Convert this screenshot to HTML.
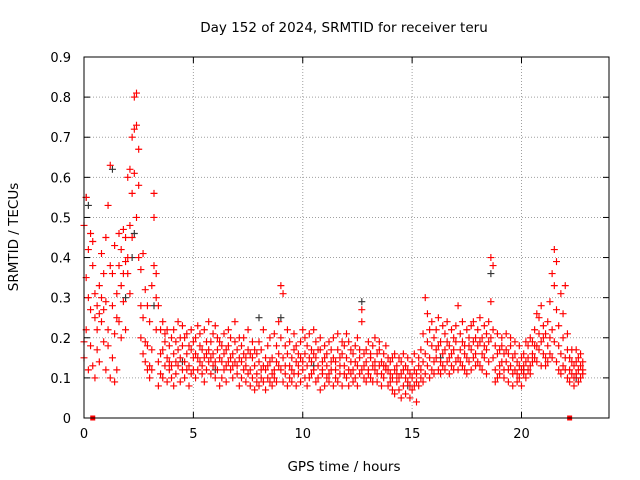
<!DOCTYPE html>
<html><head><meta charset="utf-8"><style>
body{margin:0;background:#fff}
svg{display:block;font-family:"DejaVu Sans","Liberation Sans",sans-serif}
</style></head><body>
<svg id="chart" width="640" height="480" viewBox="0 0 640 480">
<rect width="640" height="480" fill="#fff"/>
<text x="344" y="32" font-size="13.5" text-anchor="middle">Day 152 of 2024, SRMTID for receiver teru</text>
<g id="grid"></g>
<g id="ticks"></g>
<g id="black"></g>
<g id="red"></g>
<rect x="84" y="57" width="525" height="361" fill="none" stroke="#000" stroke-width="1"/>
<text x="344" y="471" font-size="13.5" text-anchor="middle">GPS time / hours</text>
<text transform="translate(18,237) rotate(-90)" font-size="13.5" text-anchor="middle">SRMTID / TECUs</text>
</svg>
<script>
const xTicks=[0,5,10,15,20];
const yTicks=[0,0.1,0.2,0.3,0.4,0.5,0.6,0.7,0.8,0.9];
const redRows=[
[0.0,.15,.48,.19],[0.1,.55,.22,.35],[0.2,.12,.42,.30],[0.3,.46,.18,.27],[0.4,.44,.13,.38],[0.5,.25,.10,.31],[0.6,.28,.17,.22],[0.7,.33,.26,.14],[0.8,.24,.30,.41],[0.9,.19,.36,.27],
[1.0,.45,.12,.29],[1.1,.53,.22,.18],[1.2,.63,.38,.10],[1.3,.28,.15,.36],[1.4,.21,.43,.09],[1.5,.31,.12,.25],[1.6,.38,.46,.24],[1.7,.33,.20,.42],[1.8,.47,.29,.36],[1.9,.45,.22,.39],
[2.0,.36,.60,.40],[2.1,.62,.48,.31],[2.2,.70,.56,.45],[2.3,.72,.80,.61],[2.4,.81,.73,.50],[2.5,.58,.67,.40],[2.6,.37,.20,.28],[2.7,.16,.25,.41],[2.8,.32,.14,.19],[2.9,.18,.28,.12],
[3.0,.13,.24,.10],[3.1,.33,.17,.12],[3.2,.56,.50,.38],[3.3,.30,.36,.22],[3.4,.28,.14,.08],[3.5,.22,.16,.11],[3.6,.24,.10,.17],[3.7,.19,.13,.21],[3.8,.15,.09,.22],[3.9,.12,.18,.14],
[4.0,.20,.10,.13],[4.1,.16,.22,.08],[4.2,.11,.19,.14],[4.3,.24,.13,.17],[4.4,.15,.09,.20],[4.5,.18,.12,.23],[4.6,.14,.20,.10],[4.7,.21,.16,.12],[4.8,.13,.18,.08],[4.9,.17,.11,.22],
[5.0,.12,.19,.15],[5.1,.20,.10,.16],[5.2,.15,.23,.12],[5.3,.18,.14,.21],[5.4,.11,.17,.13],[5.5,.22,.15,.09],[5.6,.16,.12,.19],[5.7,.14,.24,.17],[5.8,.19,.11,.15],[5.9,.13,.16,.21],
[6.0,.23,.14,.10],[6.1,.17,.12,.20],[6.2,.15,.19,.08],[6.3,.10,.14,.18],[6.4,.21,.16,.12],[6.5,.13,.09,.17],[6.6,.18,.14,.22],[6.7,.12,.20,.15],[6.8,.16,.10,.13],[6.9,.19,.14,.24],
[7.0,.11,.17,.13],[7.1,.15,.08,.20],[7.2,.14,.18,.10],[7.3,.20,.12,.16],[7.4,.09,.15,.13],[7.5,.17,.22,.11],[7.6,.12,.08,.16],[7.7,.15,.19,.10],[7.8,.07,.13,.17],[7.9,.11,.16,.09],
[8.0,.14,.08,.19],[8.1,.10,.17,.12],[8.2,.22,.09,.13],[8.3,.12,.15,.07],[8.4,.18,.10,.13],[8.5,.09,.14,.20],[8.6,.15,.11,.08],[8.7,.12,.21,.10],[8.8,.18,.09,.14],[8.9,.13,.16,.24],
[9.0,.33,.12,.20],[9.1,.31,.15,.09],[9.2,.11,.18,.13],[9.3,.16,.08,.22],[9.4,.13,.19,.10],[9.5,.09,.15,.12],[9.6,.21,.11,.17],[9.7,.14,.18,.08],[9.8,.11,.16,.13],[9.9,.19,.09,.15],
[10.0,.12,.22,.14],[10.1,.16,.10,.20],[10.2,.18,.13,.08],[10.3,.10,.21,.15],[10.4,.14,.17,.11],[10.5,.22,.12,.16],[10.6,.09,.15,.19],[10.7,.13,.10,.17],[10.8,.17,.20,.07],[10.9,.11,.14,.12],
[11.0,.15,.08,.18],[11.1,.10,.13,.16],[11.2,.19,.11,.09],[11.3,.12,.17,.14],[11.4,.08,.15,.20],[11.5,.14,.10,.12],[11.6,.17,.21,.09],[11.7,.11,.13,.15],[11.8,.16,.08,.19],[11.9,.13,.18,.11],
[12.0,.10,.15,.21],[12.1,.19,.12,.08],[12.2,.14,.17,.11],[12.3,.12,.09,.16],[12.4,.18,.14,.10],[12.5,.08,.13,.20],[12.6,.15,.11,.17],[12.7,.27,.12,.24],[12.8,.10,.16,.13],[12.9,.17,.09,.14],
[13.0,.12,.19,.11],[13.1,.15,.10,.16],[13.2,.13,.18,.09],[13.3,.20,.12,.14],[13.4,.09,.16,.11],[13.5,.17,.13,.19],[13.6,.11,.14,.08],[13.7,.16,.10,.13],[13.8,.13,.18,.12],[13.9,.08,.12,.15],
[14.0,.14,.09,.11],[14.1,.10,.15,.07],[14.2,.12,.06,.16],[14.3,.09,.13,.11],[14.4,.15,.07,.10],[14.5,.11,.14,.05],[14.6,.08,.12,.16],[14.7,.13,.06,.10],[14.8,.09,.15,.12],[14.9,.11,.05,.08],
[15.0,.14,.10,.07],[15.1,.08,.12,.16],[15.2,.04,.11,.09],[15.3,.13,.08,.15],[15.4,.10,.17,.12],[15.5,.21,.09,.14],[15.6,.30,.16,.11],[15.7,.26,.13,.19],[15.8,.15,.22,.10],[15.9,.18,.12,.24],
[16.0,.14,.20,.11],[16.1,.22,.15,.17],[16.2,.12,.18,.25],[16.3,.19,.14,.11],[16.4,.16,.23,.13],[16.5,.21,.12,.17],[16.6,.14,.19,.24],[16.7,.18,.11,.15],[16.8,.22,.16,.13],[16.9,.12,.20,.17],
[17.0,.19,.14,.23],[17.1,.15,.28,.12],[17.2,.21,.17,.14],[17.3,.13,.19,.24],[17.4,.18,.12,.16],[17.5,.15,.22,.11],[17.6,.20,.14,.18],[17.7,.12,.17,.23],[17.8,.24,.15,.19],[17.9,.16,.20,.13],
[18.0,.22,.14,.18],[18.1,.13,.19,.25],[18.2,.20,.16,.12],[18.3,.15,.23,.18],[18.4,.11,.17,.21],[18.5,.19,.24,.14],[18.6,.40,.29,.20],[18.7,.38,.22,.15],[18.8,.12,.18,.09],[18.9,.16,.10,.21],
[19.0,.13,.17,.11],[19.1,.20,.14,.18],[19.2,.10,.16,.12],[19.3,.17,.21,.14],[19.4,.12,.09,.16],[19.5,.18,.13,.20],[19.6,.11,.15,.08],[19.7,.16,.12,.19],[19.8,.09,.14,.11],[19.9,.13,.18,.10],
[20.0,.15,.08,.12],[20.1,.11,.16,.13],[20.2,.14,.10,.19],[20.3,.18,.12,.15],[20.4,.13,.20,.11],[20.5,.16,.19,.14],[20.6,.22,.15,.18],[20.7,.18,.26,.14],[20.8,.25,.17,.21],[20.9,.19,.28,.13],
[21.0,.23,.16,.20],[21.1,.15,.21,.13],[21.2,.18,.14,.24],[21.3,.20,.29,.16],[21.4,.36,.22,.15],[21.5,.42,.33,.19],[21.6,.39,.27,.14],[21.7,.23,.12,.18],[21.8,.31,.16,.11],[21.9,.26,.13,.20],
[22.0,.15,.33,.12],[22.1,.21,.10,.17],[22.2,.12,.15,.09],[22.3,.17,.11,.14],[22.4,.10,.13,.08],[22.5,.14,.17,.11],[22.6,.09,.12,.15],[22.7,.13,.10,.16],[22.8,.11,.14,.12]
];
const blackHours=[0.1,0.2,1.3,1.9,2.2,2.3,3.2,4.5,6.0,8.0,9.0,10.5,12.7,14.8,16.3,18.6,20.1,22.5];
const blackValues=[0.55,0.53,0.62,0.30,0.40,0.46,0.28,0.14,0.12,0.25,0.25,0.13,0.29,0.08,0.15,0.36,0.12,0.10];
const markerHours=[0.4,22.2];

const X0=84,X1=609,Y0=418,Y1=57,XMAX=24,YMAX=0.9;
const sx=h=>X0+(X1-X0)*h/XMAX;
const sy=v=>Y0-(Y0-Y1)*v/YMAX;
const NS="http://www.w3.org/2000/svg";
function mk(tag,attrs,parent){const e=document.createElementNS(NS,tag);for(const k in attrs)e.setAttribute(k,attrs[k]);parent.appendChild(e);return e;}
const grid=document.getElementById('grid'),ticks=document.getElementById('ticks');
xTicks.forEach(t=>{
  const x=sx(t);
  if(t>0){const g=mk('line',{x1:x,x2:x,y1:Y0,y2:Y1,stroke:'#a0a0a0','stroke-dasharray':'1,2'},grid);
  
  }
  mk('line',{x1:x,x2:x,y1:Y0,y2:Y0-6,stroke:'#000'},ticks);
  mk('line',{x1:x,x2:x,y1:Y1,y2:Y1+6,stroke:'#000'},ticks);
  const l=mk('text',{x:x,y:Y0+20,'font-size':13,'text-anchor':'middle'},ticks);l.textContent=t;
  
  
});
yTicks.forEach(t=>{
  const y=sy(t);
  if(t>0){const g=mk('line',{x1:X0,x2:X1,y1:y,y2:y,stroke:'#a0a0a0','stroke-dasharray':'1,2'},grid);
  
  }
  mk('line',{x1:X0,x2:X0+6,y1:y,y2:y,stroke:'#000'},ticks);
  mk('line',{x1:X1,x2:X1-6,y1:y,y2:y,stroke:'#000'},ticks);
  const l=mk('text',{x:X0-13,y:y+5,'font-size':13,'text-anchor':'end'},ticks);l.textContent=(t===0?'0':t.toFixed(1));
  
  
});
function plus(h,v,color,parent){
  const x=sx(h),y=sy(v);
  return mk('path',{d:`M${x-3.5},${y}H${x+3.5}M${x},${y-3.5}V${y+3.5}`,stroke:color,'stroke-width':1.15,fill:'none'},parent);
}
const bk=document.getElementById('black'),rd=document.getElementById('red');
blackHours.forEach((h,i)=>{
  const p=plus(h,blackValues[i],'#333',bk);
  
  
});
redRows.forEach(r=>{
  for(let k=1;k<r.length;k++){
    const p=plus(r[0],r[k],'#ff0000',rd);
    
    
  }
});
markerHours.forEach(h=>{
  const m=mk('rect',{x:sx(h)-2.5,y:Y0-2.5,width:5,height:5,fill:'#ff0000'},rd);
  
  
});
</script>
</body></html>
